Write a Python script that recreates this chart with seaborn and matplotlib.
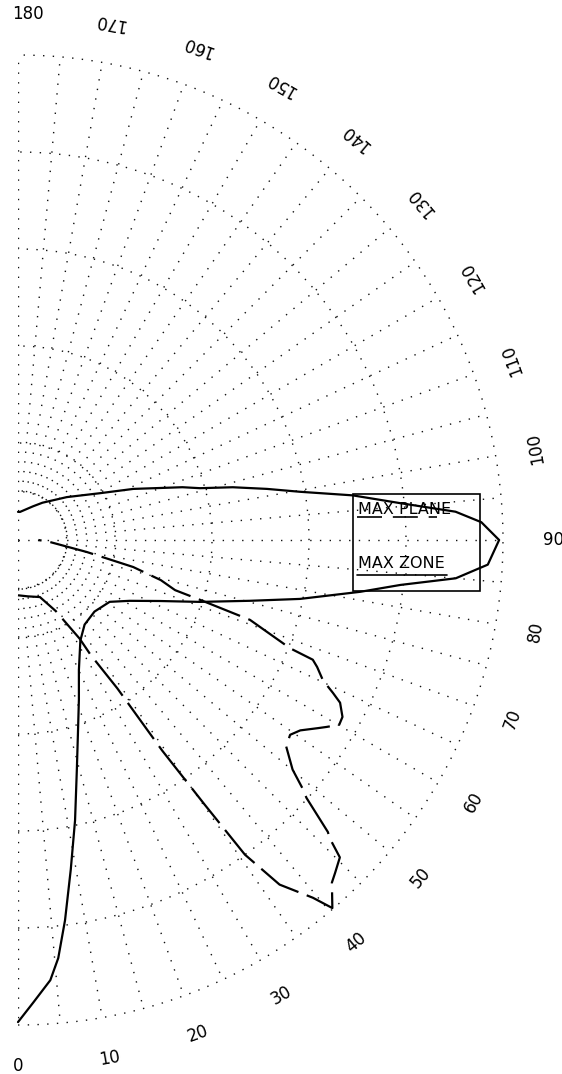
import numpy as np
import matplotlib
matplotlib.use("Agg")
import matplotlib.pyplot as plt
from matplotlib.patches import Rectangle
from matplotlib.lines import Line2D
import seaborn as sns

# ---- data (angles in degrees, intensity in grid units, outer ring = 5) ----
zone_angle = [0, 1.9, 4.2, 5.5, 7.05, 9.1, 11.5, 14.4, 17.1, 20.9, 25.1, 31.8, 38.2,
              46.9, 56, 61.4, 66.7, 71.2, 75.3, 78.2, 81.4, 83.3, 85, 87, 90, 92.2,
              93.7, 95.5, 97.6, 99.7, 101.6, 103.8, 105.9, 107.8, 113.9, 119.8,
              131.3, 146.7, 156, 176, 180]
zone_value = [4.97, 4.77, 4.55, 4.33, 3.95, 3.44, 2.95, 2.44, 2.10, 1.76, 1.48, 1.22, 1.11,
              1.08, 1.14, 1.31, 1.59, 1.98, 2.47, 2.97, 3.57, 3.97, 4.53, 4.85, 4.96, 4.78,
              4.52, 3.96, 3.48, 2.95, 2.62, 2.28, 1.95, 1.78, 1.30, 0.97,
              0.67, 0.46, 0.38, 0.29, 0.29]

plane_angle = [0, 10, 21, 28, 32, 32.3, 33.8, 34.4, 35.2, 35.8, 37.2, 39.5, 40.5, 42.5,
               43.6, 45.4, 46.3, 46.7, 48.2, 48.9, 50.1, 52.4, 54.4, 56, 57.9, 58.8,
               60.1, 61.4, 63.2, 64.1, 65.3, 67, 67.9, 68.3, 71, 71.8, 72.3, 74.3, 76.8,
               80.1, 86.4, 90]
plane_value = [0.57, 0.59, 0.63, 0.83, 1.20, 1.40, 1.84, 2.63, 3.34, 4.00, 4.46, 4.78, 4.99, 4.79,
               4.74, 4.66, 4.44, 4.39, 3.99, 3.89, 3.69, 3.49, 3.45, 3.51, 3.65, 3.72,
               3.82, 3.81, 3.72, 3.61, 3.46, 3.35, 3.28, 3.02, 2.53, 1.98, 1.70, 1.53, 1.22,
               0.72, 0.33, 0.21]

tick_angles = list(range(0, 181, 10))
tick_labels = [str(a) for a in tick_angles]

# ---- figure ----
sns.set_style("white")
plt.rcParams['font.family'] = ['DejaVu Sans']
plt.rcParams['text.color'] = 'black'

W, H = 562, 1074
fig = plt.figure(figsize=(W / 100, H / 100), dpi=100)
ox, oy, R = 18, 540, 485
cx = ox + R / 2.0          # centre of the half-disc bounding box
ax = fig.add_axes([(cx - R) / W, (H - oy - 2 * R) / H, 2 * R / W, 4 * R / H], projection='polar')
ax.set_theta_zero_location('S')
ax.set_theta_direction(1)
ax.set_thetamin(0)
ax.set_thetamax(180)
ax.set_ylim(0, 5)
ax.set_frame_on(False)
ax.patch.set_visible(False)
ax.tick_params(axis='both', which='both', length=0, width=0)

dot = (0, (1, 6))
gcol = '#111111'
ax.set_thetagrids(np.arange(0, 181, 10), labels=[''] * 19)
ax.set_rgrids([0.5, 1, 2, 3, 4], labels=[''] * 5)
ax.yaxis.grid(True, color=gcol, linestyle=dot, linewidth=1.0)
ax.xaxis.grid(False)
for sp in ax.spines.values():
    sp.set_visible(False)
# radial spokes every 5 degrees (the axis lines reach the pole)
spokes = np.arange(0, 181, 5)
inner = np.where(np.isin(spokes, [0, 90, 180]), 0.0, 0.5)
ax.vlines(np.deg2rad(spokes), inner, 5.0, colors=gcol, linestyles=[dot], linewidth=1.0)
tt = np.linspace(0, np.pi, 400)
ax.plot(tt, np.full_like(tt, 5.0), color=gcol, linestyle=dot, linewidth=1.0, clip_on=False)

sns.lineplot(x=np.deg2rad(zone_angle), y=zone_value, ax=ax, sort=False, estimator=None,
             color='black', linewidth=1.6)
sns.lineplot(x=np.deg2rad(plane_angle), y=plane_value, ax=ax, sort=False, estimator=None,
             color='black', linewidth=1.6, linestyle=(0, (20, 4)))
for ln in ax.lines:
    ln.set_clip_on(False)

# angle labels
for a, lab in zip(tick_angles, tick_labels):
    rot = 0 if a in (0, 90, 180) else a
    rr = 5.52 if a == 90 else 5.42
    aa = 178.9 if a == 180 else a
    ax.text(np.deg2rad(aa), rr, lab, rotation=rot, rotation_mode='anchor',
            ha='center', va='center', fontsize=12, color='black', clip_on=False)

# legend box
fig.patches.append(Rectangle((353 / W, 1 - 591 / H), (480 - 353) / W, (591 - 494) / H,
                             transform=fig.transFigure, fill=False, edgecolor='black',
                             linewidth=1.2))
fig.text(358 / W, 1 - 509 / H, 'MAX PLANE', ha='left', va='center', fontsize=11.5, color='black')
fig.text(358 / W, 1 - 563 / H, 'MAX ZONE', ha='left', va='center', fontsize=11.5, color='black')
fig.lines.append(Line2D([357 / W, 437 / W], [1 - 517 / H, 1 - 517 / H], transform=fig.transFigure,
                        color='black', linewidth=1.2, linestyle=(0, (15, 6.5))))
fig.lines.append(Line2D([357 / W, 447 / W], [1 - 575 / H, 1 - 575 / H], transform=fig.transFigure,
                        color='black', linewidth=1.2))

fig.savefig('out.png', dpi=100, facecolor='white')
